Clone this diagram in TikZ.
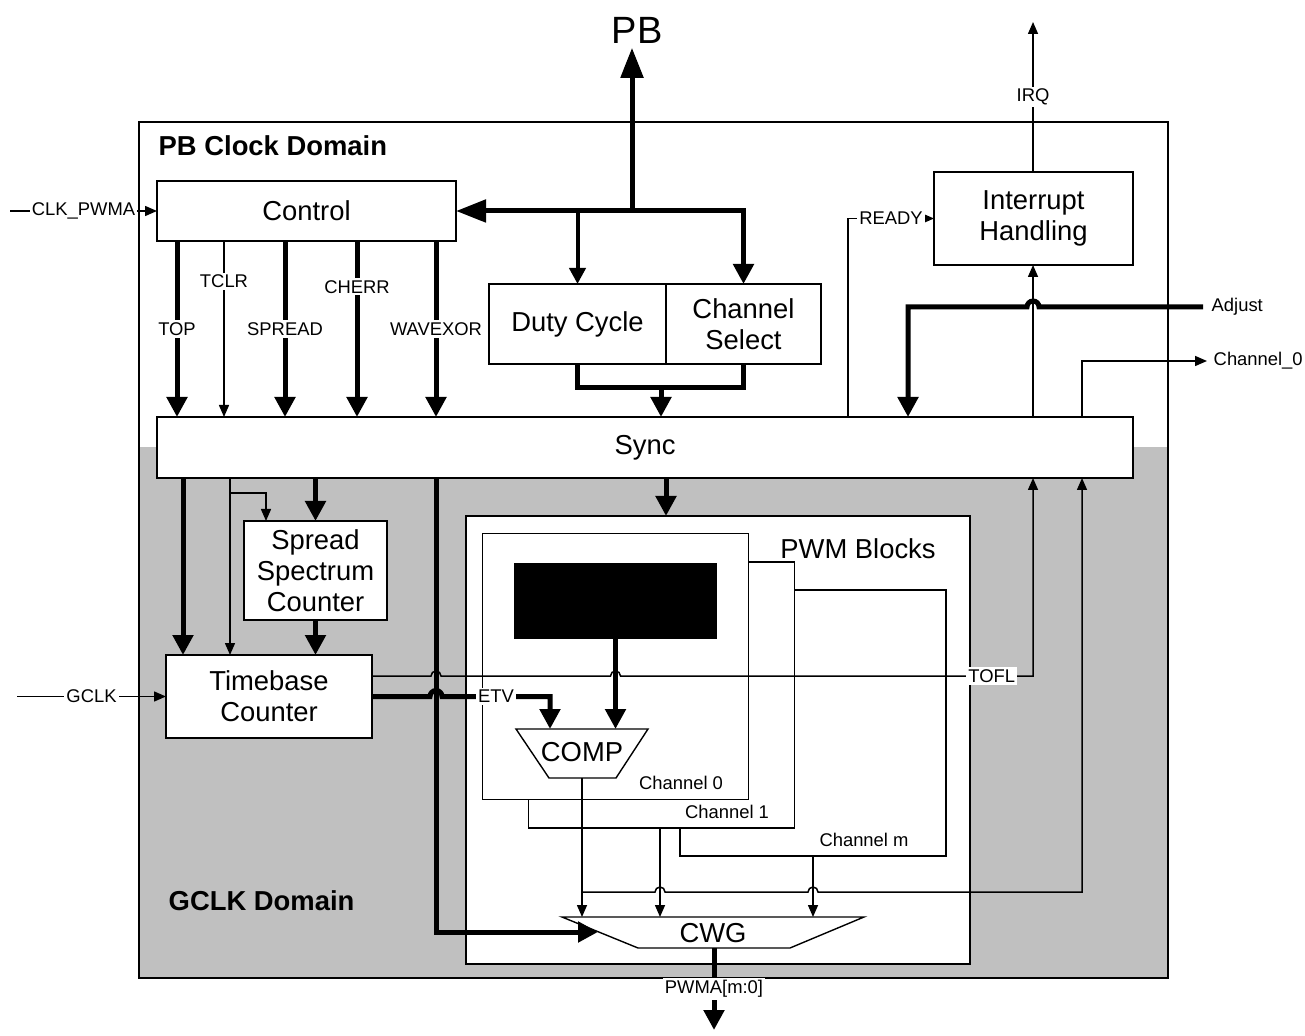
\documentclass[tikz,border=0pt]{standalone}
\usepackage{fontspec}
\setmainfont{Liberation Sans}
\usepackage{xcolor}
\usepackage{tikz}
\usetikzlibrary{arrows.meta, positioning, calc}
\definecolor{gclkgray}{HTML}{C0C0C0}
\newcommand{\blkfont}{\fontsize{13.7}{15.5}\selectfont}
\newcommand{\sigfont}{\fontsize{9.2}{11}\selectfont}

\begin{document}
\begin{tikzpicture}[
    x=0.5pt, y=-0.5pt, line width=0.7pt,
    blk/.style={draw, fill=white, inner sep=0pt, outer sep=0pt, align=center, font=\blkfont},
    txt/.style={inner sep=1pt, font=\sigfont},
    lbl/.style={txt, fill=white},
    sig/.style={draw, line width=0.75pt, -{Triangle[length=6pt, width=5pt]}},
    bus/.style={draw, line width=2.5pt, -{Triangle[length=10pt, width=10pt]}},
    wide/.style={draw, line width=2.5pt, -{Triangle[length=15pt, width=11pt]}}]
  \useasboundingbox (0,0) rectangle (1305,1036);

  % clock domains
  \fill[gclkgray] (139,447) rectangle (1168,978);
  \draw (139,122) rectangle (1168,978);
  \node[anchor=west, inner sep=0pt, font=\blkfont\bfseries] (pbdom) at (158,146) {PB Clock Domain};
  \node[anchor=west, inner sep=0pt, font=\blkfont\bfseries] (gclkdom) at (168,901) {GCLK Domain};

  % blocks
  \node[blk, minimum width=149.5pt, minimum height=30pt] (ctrl) at (306.5,211) {Control};
  \node[blk, minimum width=88.5pt, minimum height=40pt] (duty) at (577.5,324) {Duty Cycle};
  \node[blk, minimum width=77.5pt, minimum height=40pt, right=0pt of duty] (chsel) {Channel\\Select};
  \node[blk, minimum width=99.5pt, minimum height=46.5pt] (inth) at (1033.5,218.5) {Interrupt\\Handling};
  \node[blk, minimum width=488pt, minimum height=30.5pt] (sync) at (645,447.5) {Sync};
  \node[blk, minimum width=71.5pt, minimum height=49.5pt] (ssc) at (315.5,570.5) {Spread\\Spectrum\\Counter};
  \node[blk, minimum width=103pt, minimum height=41.5pt] (tbc) at (269,696.5) {Timebase\\Counter};

  % PWM blocks
  \node[blk, minimum width=252pt, minimum height=224pt] (pwm) at (718,740) {};
  \node[blk, minimum width=133pt, minimum height=133pt] (chm) at (813,723) {};
  \node[blk, minimum width=133pt, minimum height=133pt] (ch1) at (661.5,695) {};
  \node[blk, minimum width=133pt, minimum height=133pt] (ch0) at (615.5,666.5) {};
  \node[draw, fill=black, inner sep=0pt, minimum width=100.5pt, minimum height=37pt] (reg) at (615.5,601) {};
  \node[font=\blkfont] (pwmlbl) at (858,549) {PWM Blocks};
  \node[txt] (ch0lbl) at (681,783) {Channel 0};
  \node[txt] (ch1lbl) at (727,812) {Channel 1};
  \node[txt] (chmlbl) at (864,840) {Channel m};

  % COMP and CWG
  \coordinate (cmpT) at (582,729);
  \coordinate (cmpB) at (582,778);
  \draw[fill=white] (516,729) -- (648,729) -- (616,778) -- (549,778) -- cycle;
  \node[font=\blkfont] (comp) at (582,752) {COMP};
  \coordinate (cwgT) at (713,917);
  \coordinate (cwgB) at (714,948);
  \coordinate (cwgin) at (598,932);
  \draw[fill=white] (562,917) -- (864,917) -- (790,948) -- (638,948) -- cycle;
  \node[font=\blkfont] (cwg) at (713,933) {CWG};

  % PB bus
  \coordinate (pbj) at (632,211);
  \node[font=\fontsize{19}{22}\selectfont, inner sep=2pt] (pb) at (637,30) {PB};
  \draw[wide] (pbj) -- (pbj |- pb.south);
  \draw[wide] (pbj) -- (ctrl.east);
  \draw[bus] (pbj) -| (chsel.north);
  \draw[bus, line width=2pt, -{Triangle[length=8pt, width=8pt]}] (duty.north |- pbj) -- (duty.north);
  \coordinate (dj) at (661,388);
  \draw[line width=2.5pt] (duty.south) |- (dj) -| (chsel.south);
  \draw[bus] (dj) -- (dj |- sync.north);

  % control to sync
  \foreach \cx/\lab/\p/\sty in {177/TOP/0.5/bus, 224/TCLR/0.23/sig, 285/SPREAD/0.5/bus, 357/CHERR/0.26/bus, 436/WAVEXOR/0.5/bus} {
    \coordinate (cc) at (\cx,0);
    \draw[\sty] (cc |- ctrl.south) -- node[lbl, pos=\p] {\lab} (cc |- sync.north);
  }

  % inputs
  \coordinate (clkin) at (10,211);
  \draw[sig] (clkin) -- node[lbl] {CLK\_PWMA} (ctrl.west);
  \coordinate (gclkin) at (17,696.5);
  \draw[sig] (gclkin) -- node[lbl] {GCLK} (tbc.west);

  % sync to gclk domain
  \coordinate (xa) at (183,0);
  \coordinate (xb) at (230,0);
  \coordinate (xbr) at (266,493);
  \draw[bus] (xa |- sync.south) -- (xa |- tbc.north);
  \draw[sig] (xb |- sync.south) -- (xb |- tbc.north);
  \draw[sig] (xb |- xbr) -| (xbr |- ssc.north);
  \draw[bus] (ssc.north |- sync.south) -- (ssc.north);
  \draw[bus] (ssc.south) -- (ssc.south |- tbc.north);
  \coordinate (xs) at (666,0);
  \draw[bus] (xs |- sync.south) -- (xs |- pwm.north);

  % timebase outputs
  \coordinate (toflA) at (372,676);
  \coordinate (xw) at (436,0);
  \coordinate (xc) at (1033,0);
  \coordinate (xd) at (1082,0);
  \coordinate (xe) at (550,0);
  \draw[sig] (toflA) -- ($(xw |- toflA)+(-5,0)$) arc[start angle=180, end angle=0, radius=2.5pt]
    -- ($(reg.south |- toflA)+(-5,0)$) arc[start angle=180, end angle=0, radius=2.5pt]
    -- node[lbl, pos=0.9] {TOFL} (xc |- toflA) -- (xc |- sync.south);
  \draw[bus] (tbc.east) -- ($(xw |- tbc.east)+(-6,0)$) arc[start angle=180, end angle=0, radius=3pt]
    -- node[lbl] {ETV} (xe |- tbc.east) -- (xe |- cmpT);
  \draw[bus] (reg.south) -- (reg.south |- cmpT);
  \draw[bus] (xw |- sync.south) |- (cwgin);

  % channel outputs to CWG
  \coordinate (xf) at (660,0);
  \coordinate (fb) at (582,892);
  \draw[sig] (cmpB) -- (cmpB |- cwgT);
  \draw[sig] (xf |- ch1.south) -- (xf |- cwgT);
  \draw[sig] (chm.south) -- (chm.south |- cwgT);
  \draw[sig] (fb) -- ($(xf |- fb)+(-5,0)$) arc[start angle=180, end angle=0, radius=2.5pt]
    -- ($(chm.south |- fb)+(-5,0)$) arc[start angle=180, end angle=0, radius=2.5pt]
    -- (xd |- fb) -- (xd |- sync.south);
  \coordinate (pwmout) at (714,1030);
  \draw[bus] (cwgB) -- node[lbl] {PWMA[m:0]} (pwmout);

  % interrupt and outputs
  \coordinate (xr) at (848,0);
  \draw[sig] (xr |- sync.north) |- node[lbl, pos=0.75] {READY} (inth.west);
  \draw[sig] (xc |- sync.north) -- (xc |- inth.south);
  \coordinate (irqout) at (1033,22);
  \draw[sig] (xc |- inth.north) -- node[lbl] {IRQ} (irqout);
  \coordinate (adjin) at (1203,307);
  \coordinate (xj) at (908,0);
  \draw[bus] (adjin) -- ($(xc |- adjin)+(6,0)$) arc[start angle=0, end angle=180, radius=3pt]
    -- (xj |- adjin) -- (xj |- sync.north);
  \node[txt, anchor=west, xshift=3pt] (adjlbl) at (adjin) {Adjust};
  \coordinate (ch0out) at (1207,361);
  \draw[sig] (xd |- sync.north) |- (ch0out);
  \node[txt, anchor=west, xshift=2pt] (ch0lblout) at (ch0out) {Channel\_0};
\end{tikzpicture}
\end{document}
